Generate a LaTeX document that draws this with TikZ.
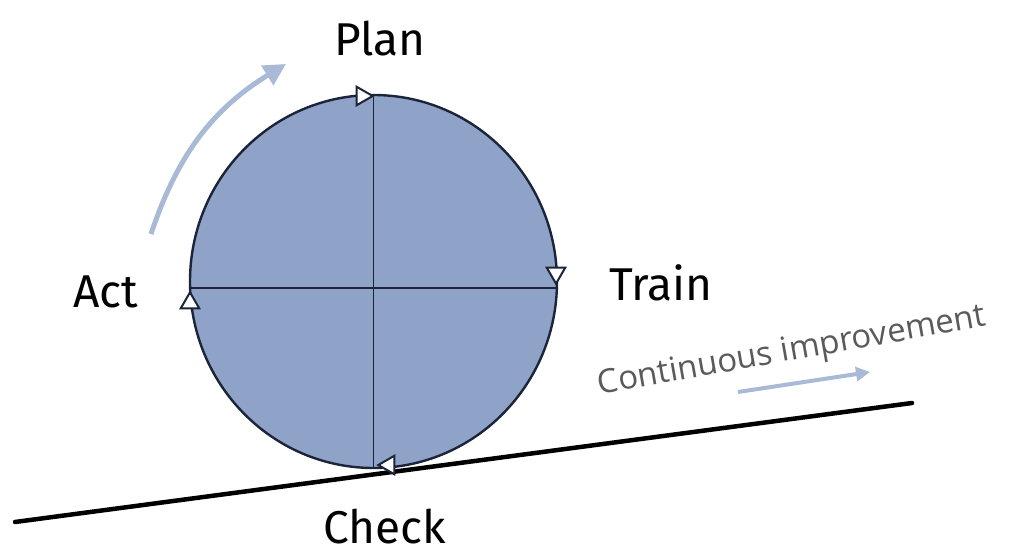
\documentclass[tikz,border=0pt]{standalone}
\usepackage{fontspec}
\setmainfont{Fira Sans}
\newfontfamily\ciFont{Open Sans}
\usetikzlibrary{shapes.geometric,arrows.meta}
\definecolor{wheelfill}{RGB}{143,162,199}
\definecolor{wheelline}{RGB}{28,36,58}
\definecolor{arrowblue}{RGB}{168,186,214}
\definecolor{labelgray}{RGB}{90,90,90}
\tikzset{
  lbl/.style={font=\fontsize{46}{50}\selectfont, text=black, inner sep=0pt},
  tri/.style={isosceles triangle, isosceles triangle apex angle=60, draw=wheelline, fill=white,
              line width=2pt, minimum height=16pt, inner sep=0pt},
  wline/.style={draw=wheelline, line width=1.6pt}
}
\begin{document}
\begin{tikzpicture}[x=1pt,y=-1pt]
\useasboundingbox (0,0) rectangle (1034,559);
% ground
\coordinate (g1) at (15,522);
\coordinate (g2) at (912,403);
\draw[line width=4.5pt, black, line cap=round] (g1) -- (g2);
% wheel
\node[ellipse, draw=wheelline, fill=wheelfill, line width=2.4pt, minimum width=367pt, minimum height=373pt, inner sep=0pt] (w) at (373.5,281.5) {};
\coordinate (hl) at (190,288);
\coordinate (hr) at (557,288);
\draw[wline] (w.north) -- (w.south);
\draw[wline] (hl) -- (hr);
% arrowheads (clockwise)
\node[tri, shape border rotate=0] (tp) at (362,96) {};
\node[tri, shape border rotate=-90] (tr) at (556,273) {};
\node[tri, shape border rotate=180] (tb) at (389,465) {};
\node[tri, shape border rotate=90] (tl) at (190,303) {};
% labels
\node[lbl] (plan) at (380,39) {Plan};
\node[lbl] (train) at (661,283) {Train};
\node[lbl] (act) at (106,292) {Act};
\node[lbl] (check) at (385,527) {Check};
\node[font=\ciFont\fontsize{33}{36}\selectfont, text=labelgray, rotate=10, inner sep=0pt] (ci) at (792,352) {Continuous improvement};
% arrows
\coordinate (a1) at (738,392);
\coordinate (a2) at (870,372);
\draw[arrowblue, line width=4pt, -{Triangle[length=14pt,width=14pt]}] (a1) -- (a2);
\coordinate (c1) at (151,234);
\coordinate (c2) at (286,64);
\draw[arrowblue, line width=5pt, -{Triangle[length=22pt,width=22pt]}] (c1) to[bend left=20] (c2);
\end{tikzpicture}
\end{document}
